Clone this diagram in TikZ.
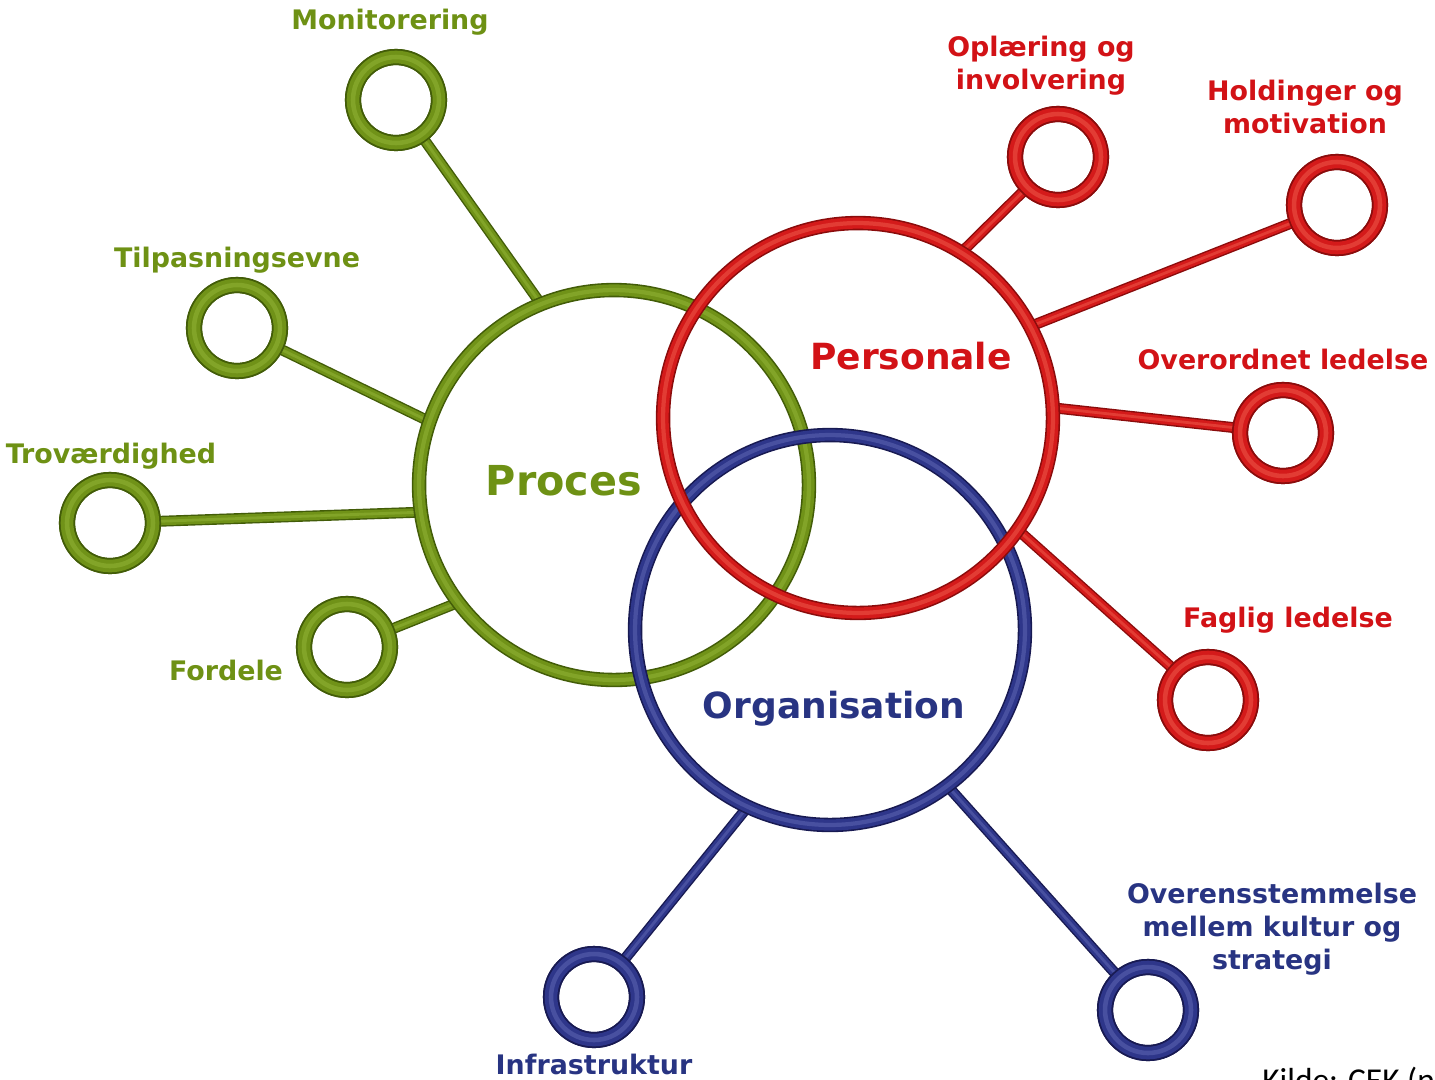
\documentclass[tikz,border=0pt]{standalone}
\usepackage{fontspec}
\setmainfont{DejaVu Sans}
\newfontfamily\kildefont{Carlito}
\usepackage{tikz}
\usetikzlibrary{positioning,calc}

\definecolor{gmain}{RGB}{112,146,24}
\definecolor{gdark}{RGB}{66,92,8}
\definecolor{glight}{RGB}{130,164,40}
\definecolor{rmain}{RGB}{212,26,26}
\definecolor{rdark}{RGB}{138,12,12}
\definecolor{rlight}{RGB}{226,60,52}
\definecolor{bmain}{RGB}{46,54,138}
\definecolor{bdark}{RGB}{24,26,82}
\definecolor{blight}{RGB}{72,80,160}
\definecolor{gtext}{RGB}{110,145,20}
\definecolor{rtext}{RGB}{210,18,22}
\definecolor{btext}{RGB}{40,52,130}

\tikzset{
  bigring/.style={circle, inner sep=0pt, minimum size=7.8cm, draw=#1main, line width=6.4pt,
    preaction={draw=#1dark, line width=8.2pt},
    postaction={draw=#1light, line width=2.4pt}},
  smallring/.style={circle, inner sep=0pt, minimum size=1.72cm, draw=#1main, line width=7.2pt,
    preaction={draw=#1dark, line width=9.2pt},
    postaction={draw=#1light, line width=2.6pt}},
  spoke/.style={draw=#1main, line width=4.6pt,
    preaction={draw=#1dark, line width=6.2pt},
    postaction={draw=#1light, line width=1.6pt}},
  lbl/.style={font=\fontsize{15.3}{18.8}\selectfont\bfseries, text=#1text, align=center, inner sep=0pt},
  title/.style={font=\fontsize{#1}{#1}\selectfont\bfseries, inner sep=0pt}
}

\begin{document}
\begin{tikzpicture}[x=0.02cm, y=-0.02cm]
  \useasboundingbox (0,0) rectangle (1435,1079);

  % main rings (positions only, drawn later)
  \coordinate (proces) at (614,485);
  \coordinate (pers) at (858,418);
  \coordinate (org) at (830,630);
  \path (proces) node [circle, minimum size=7.8cm, inner sep=0pt] (p) {};
  \path (pers) node [circle, minimum size=7.8cm, inner sep=0pt] (r) {};
  \path (org) node [circle, minimum size=7.8cm, inner sep=0pt] (o) {};

  % small rings
  \node [smallring=g] (mon) at (396,100) {};
  \node [smallring=g] (tilp) at (237,328) {};
  \node [smallring=g] (trov) at (110,523) {};
  \node [smallring=g] (ford) at (347,647) {};
  \node [smallring=r] (opl) at (1058,157) {};
  \node [smallring=r] (hold) at (1337,205) {};
  \node [smallring=r] (over) at (1283,433) {};
  \node [smallring=r] (fag) at (1208,700) {};
  \node [smallring=b] (infra) at (594,997) {};
  \node [smallring=b] (kult) at (1148,1010) {};

  % spokes
  \draw [spoke=g] (mon) -- (p.112);
  \draw [spoke=g] (tilp) -- (p.161);
  \draw [spoke=g] (trov) -- (p.188);
  \draw [spoke=g] (ford) -- (p.217);
  \draw [spoke=r] (opl) -- (r.58);
  \draw [spoke=r] (hold) -- (r.28);
  \draw [spoke=r] (over) -- (r.3);
  \draw [spoke=r] (fag) -- (r.-35);
  \draw [spoke=b] (infra) -- (o.-115);
  \draw [spoke=b] (kult) -- (o.-53);

  \node [smallring=g] at (mon) {};
  \node [smallring=g] at (tilp) {};
  \node [smallring=g] at (trov) {};
  \node [smallring=g] at (ford) {};
  \node [smallring=r] at (opl) {};
  \node [smallring=r] at (hold) {};
  \node [smallring=r] at (over) {};
  \node [smallring=r] at (fag) {};
  \node [smallring=b] at (infra) {};
  \node [smallring=b] at (kult) {};

  \node [bigring=g] at (proces) {};
  \node [bigring=b] at (org) {};
  \node [bigring=r] at (pers) {};

  % texts
  \node [title=23.5, text=gtext] (tp) at (564,481) {Proces};
  \node [title=20.5, text=rtext] (tr) at (911,356) {Personale};
  \node [title=20.5, text=btext] (to) at (834,709) {Organisation};

  \node [lbl=g] (lmon) at (390,22) {Monitorering};
  \node [lbl=g] (ltilp) at (237,260) {Tilpasningsevne};
  \node [lbl=g] (ltrov) at (111,456) {Troværdighed};
  \node [lbl=g] (lford) at (226,670) {Fordele};
  \node [lbl=r] (lopl) at (1041,66) {Oplæring og\\involvering};
  \node [lbl=r] (lhold) at (1305,107) {Holdinger og\\motivation};
  \node [lbl=r] (lover) at (1283,359) {Overordnet ledelse};
  \node [lbl=r] (lfag) at (1288,620) {Faglig ledelse};
  \node [lbl=b] (lkult) at (1272,929) {Overensstemmelse\\mellem kultur og\\strategi};
  \node [lbl=b] (linfra) at (594,1064) {Infrastruktur};
  \node [anchor=west, inner sep=0pt, font=\kildefont\fontsize{19}{19}\selectfont] (kilde) at (1262,1082) {Kilde: CEK (n.d.)};
\end{tikzpicture}
\end{document}
